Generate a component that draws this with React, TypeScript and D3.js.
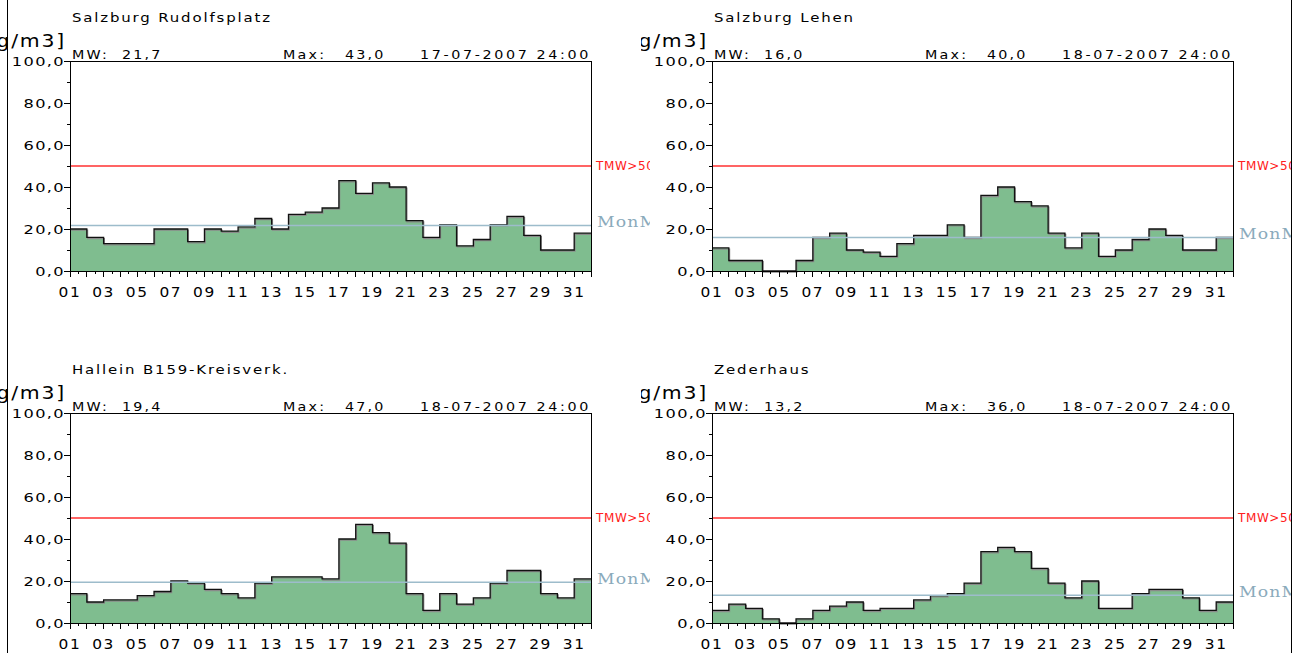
import React from 'react';
import * as d3 from 'd3';

// station names and daily means (µg/m3) for July 2007
const stations = ['Salzburg Rudolfsplatz', 'Salzburg Lehen', 'Hallein B159-Kreisverk.', 'Zederhaus'];
const days = d3.range(1, 32);
const rudolfsplatz = [20, 16, 13, 13, 13, 20, 20, 14, 20, 19, 21, 25, 20, 27, 28, 30, 43, 37, 42, 40, 24, 16, 22, 12, 15, 22, 26, 17, 10, 10, 18];
const lehen = [11, 5, 5, null, null, 5, 16, 18, 10, 9, 7, 13, 17, 17, 22, 16, 36, 40, 33, 31, 18, 11, 18, 7, 10, 15, 20, 17, 10, 10, 16];
const hallein = [14, 10, 11, 11, 13, 15, 20, 19, 16, 14, 12, 19, 22, 22, 22, 21, 40, 47, 43, 38, 14, 6, 14, 9, 12, 19, 25, 25, 14, 12, 21];
const zederhaus = [6, 9, 7, 2, null, 2, 6, 8, 10, 6, 7, 7, 11, 13, 14, 19, 34, 36, 34, 26, 19, 12, 20, 7, 7, 14, 16, 16, 12, 6, 10];
const series = [rudolfsplatz, lehen, hallein, zederhaus];
const meanValues = [21.7, 16.0, 19.4, 13.2];
const maxValues = [43.0, 40.0, 47.0, 36.0];
const maxDates = ['17-07-2007 24:00', '18-07-2007 24:00', '18-07-2007 24:00', '18-07-2007 24:00'];
const yTicks = [0, 20, 40, 60, 80, 100];
const yMinorTicks = [10, 30, 50, 70, 90];
const xTickLabels = ['01', '03', '05', '07', '09', '11', '13', '15', '17', '19', '21', '23', '25', '27', '29', '31'];
const limitValue = 50;
const limitLabel = 'TMW>50';
const meanLabel = 'MonMW';
const unitLabel = '[µg/m3]';

const W = 1299;
const H = 653;
const SANS = '"DejaVu Sans", Verdana, sans-serif';
const SERIF = '"DejaVu Serif", "Liberation Serif", serif';
const fmt = (v: number) => d3.format('.1f')(v).replace('.', ',');

// panel offsets: two columns, two rows
const offsets = [
  { x: 0, y: 0 },
  { x: 642, y: 0 },
  { x: 0, y: 352 },
  { x: 642, y: 352 },
];

type Pt = [number, number];

const Label = ({ x, y, text, size, sx = 1, ls = 0, anchor = 'start', fill = '#000', family = SANS }: any) => (
  <text
    transform={`translate(${x},${y}) scale(${sx},1)`}
    fontSize={size}
    letterSpacing={ls}
    textAnchor={anchor}
    fill={fill}
    fontFamily={family}
  >
    {text}
  </text>
);

const Panel = ({ idx }: { idx: number }) => {
  const values = series[idx];
  const x = d3.scaleLinear().domain([1, 32]).range([70, 591]);
  const y = d3.scaleLinear().domain([0, 100]).range([271, 61]);

  const pts: Pt[] = values.map((v, i) => [days[i], v ?? 0] as Pt);
  pts.push([32, values[values.length - 1] ?? 0]);

  const area = d3.area<Pt>().x(d => x(d[0])).y0(y(0)).y1(d => y(d[1])).curve(d3.curveStepAfter);
  const line = d3.line<Pt>().x(d => x(d[0])).y(d => y(d[1])).curve(d3.curveStepAfter);

  const halfDays = d3.range(2, 65).map(k => k / 2);
  const [x0, x1] = x.range();
  const [yb, yt] = y.range();

  return (
    <g>
      <Label x={72} y={22} text={stations[idx]} size={13} sx={1.15} ls={1.6} />
      <Label x={66} y={47} text={unitLabel} size={17} sx={1.2} ls={1.5} anchor="end" />
      <Label x={72} y={59} text="MW:" size={13} sx={1.1} ls={2} />
      <Label x={122} y={59} text={fmt(meanValues[idx])} size={13} sx={1.1} ls={2} />
      <Label x={283} y={59} text="Max:" size={13} sx={1.1} ls={2} />
      <Label x={345} y={59} text={fmt(maxValues[idx])} size={13} sx={1.1} ls={2} />
      <Label x={591} y={59} text={maxDates[idx]} size={13} sx={1.1} ls={2.4} anchor="end" />

      <path d={area(pts) || ''} fill="#7fbd8f" />
      <path d={line(pts) || ''} fill="none" stroke="#8a8a8a" strokeWidth={1.2} transform="translate(0.8,1.2)" />
      <path d={line(pts) || ''} fill="none" stroke="#111" strokeWidth={1.3} />

      <line x1={x0} x2={x1} y1={y(meanValues[idx])} y2={y(meanValues[idx])} stroke="#9dbccb" strokeWidth={1.5} />
      <line x1={x0} x2={x1} y1={y(limitValue)} y2={y(limitValue)} stroke="#ff3030" strokeWidth={1.4} />

      <Label x={x1 + 5} y={y(limitValue) + 4} text={limitLabel} size={12} sx={1} ls={0.6} fill="#ff2020" />
      <Label x={x1 + 6} y={y(meanValues[idx]) + 2} text={meanLabel} size={15} sx={1.15} ls={1} fill="#8aaabb" family={SERIF} />

      <rect x={x0} y={yt} width={x1 - x0} height={yb - yt} fill="none" stroke="#000" strokeWidth={1} shapeRendering="crispEdges" />

      {yTicks.map(t => (
        <g key={`y${t}`}>
          <line x1={x0 - 6} x2={x0} y1={y(t)} y2={y(t)} stroke="#000" shapeRendering="crispEdges" />
          <Label x={x0 - 5} y={y(t) + 5} text={fmt(t)} size={12} sx={1.35} ls={1} anchor="end" />
        </g>
      ))}
      {yMinorTicks.map(t => (
        <line key={`ym${t}`} x1={x0 - 3} x2={x0} y1={y(t)} y2={y(t)} stroke="#000" shapeRendering="crispEdges" />
      ))}

      {halfDays.map(d => (
        <line key={`x${d}`} x1={x(d)} x2={x(d)} y1={yb} y2={yb + (Number.isInteger(d) ? 6 : 3)} stroke="#000" shapeRendering="crispEdges" />
      ))}
      {xTickLabels.map(l => (
        <Label key={`xl${l}`} x={x(+l)} y={yb + 26} text={l} size={14} sx={1.1} ls={1.5} anchor="middle" />
      ))}
    </g>
  );
};

export default function App() {
  return (
    <svg width={W} height={H} style={{ position: 'absolute', left: 0, top: 0, background: '#fff' }}>
      <defs>
        <clipPath id="colL"><rect x={0} y={0} width={650} height={H} /></clipPath>
        <clipPath id="colR"><rect x={641} y={0} width={650} height={H} /></clipPath>
      </defs>
      <rect x={0} y={0} width={W} height={H} fill="#fff" />
      {offsets.map((o, i) => (
        <g key={i} clipPath={`url(#${o.x === 0 ? 'colL' : 'colR'})`}>
          <g transform={`translate(${o.x},${o.y})`}>
            <Panel idx={i} />
          </g>
        </g>
      ))}
      <line x1={7.5} x2={7.5} y1={0} y2={H} stroke="#000" />
      <line x1={1291.5} x2={1291.5} y1={0} y2={H} stroke="#000" />
    </svg>
  );
}
